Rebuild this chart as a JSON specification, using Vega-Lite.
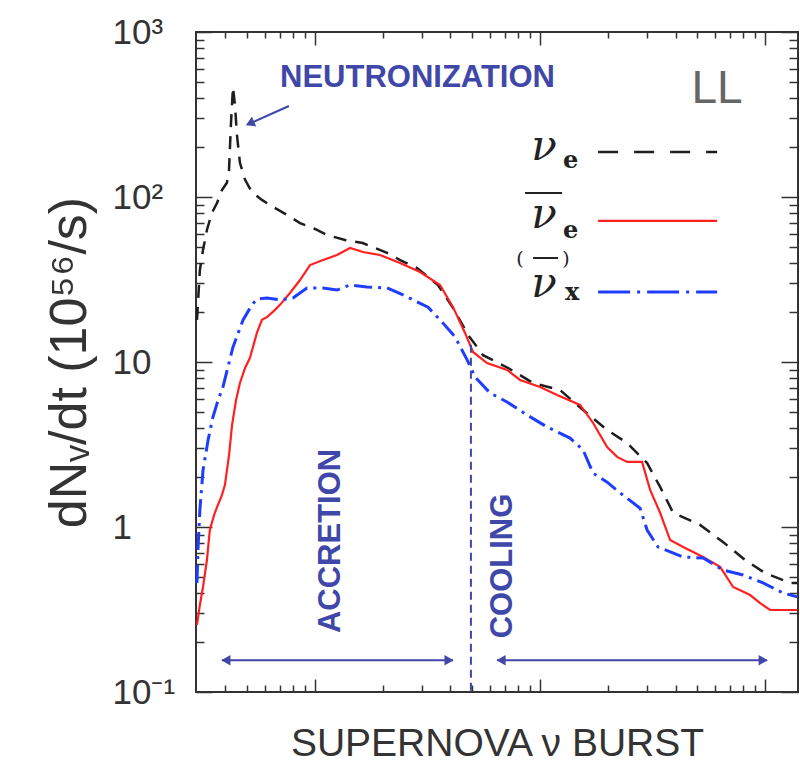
{
  "$schema": "https://vega.github.io/schema/vega-lite/v6.json",
  "width": 602,
  "height": 660,
  "autosize": {"type": "none"},
  "padding": {"left": 196, "top": 32, "right": 2, "bottom": 72},
  "background": "white",
  "config": {
    "view": {"stroke": "#333", "strokeWidth": 2},
    "font": "Liberation Sans",
    "axis": {"domain": false, "grid": false, "tickColor": "#333", "tickWidth": 1.5}
  },
  "datasets": {
    "nue": [
      {"t": 0.0299, "v": 18.0}, {"t": 0.0308, "v": 36.1}, {"t": 0.0318, "v": 47.7}, {"t": 0.0331, "v": 63.1},
      {"t": 0.0348, "v": 80}, {"t": 0.0367, "v": 92}, {"t": 0.0386, "v": 110}, {"t": 0.0406, "v": 122},
      {"t": 0.0415, "v": 146}, {"t": 0.0423, "v": 273}, {"t": 0.0432, "v": 464}, {"t": 0.0441, "v": 361},
      {"t": 0.0450, "v": 238}, {"t": 0.0464, "v": 161}, {"t": 0.0489, "v": 127}, {"t": 0.0525, "v": 107},
      {"t": 0.0581, "v": 96}, {"t": 0.0651, "v": 87}, {"t": 0.0751, "v": 78}, {"t": 0.0858, "v": 69.5},
      {"t": 0.1, "v": 64}, {"t": 0.113, "v": 58.9}, {"t": 0.136, "v": 54.9}, {"t": 0.163, "v": 52.6},
      {"t": 0.209, "v": 45.8}, {"t": 0.239, "v": 41.5}, {"t": 0.284, "v": 37.1}, {"t": 0.352, "v": 29.3},
      {"t": 0.411, "v": 21.2}, {"t": 0.479, "v": 14.6}, {"t": 0.558, "v": 11.0}, {"t": 0.721, "v": 9.2},
      {"t": 0.931, "v": 7.46}, {"t": 1.227, "v": 6.76}, {"t": 1.553, "v": 5.12}, {"t": 1.986, "v": 3.87},
      {"t": 2.438, "v": 3.23}, {"t": 2.991, "v": 2.44}, {"t": 3.415, "v": 1.75}, {"t": 3.902, "v": 1.22},
      {"t": 5.14, "v": 1.03}, {"t": 6.5, "v": 0.811}, {"t": 8.15, "v": 0.631}, {"t": 10, "v": 0.526},
      {"t": 12.92, "v": 0.458}, {"t": 13.9, "v": 0.458}
    ],
    "nuebar": [
      {"t": 0.0299, "v": 0.255}, {"t": 0.0308, "v": 0.337}, {"t": 0.0318, "v": 0.433}, {"t": 0.0331, "v": 0.631},
      {"t": 0.0341, "v": 0.959}, {"t": 0.0356, "v": 1.18}, {"t": 0.0367, "v": 1.32}, {"t": 0.0386, "v": 1.56},
      {"t": 0.0398, "v": 1.8}, {"t": 0.0415, "v": 2.73}, {"t": 0.0428, "v": 4.15}, {"t": 0.0446, "v": 5.88},
      {"t": 0.0464, "v": 7.46}, {"t": 0.0489, "v": 9.2}, {"t": 0.0514, "v": 10.6}, {"t": 0.0552, "v": 15.0},
      {"t": 0.0581, "v": 18.0}, {"t": 0.0612, "v": 18.7}, {"t": 0.0664, "v": 20.7}, {"t": 0.0699, "v": 22.2},
      {"t": 0.0774, "v": 26.2}, {"t": 0.0858, "v": 31.4}, {"t": 0.095, "v": 38.7}, {"t": 0.1086, "v": 41.5},
      {"t": 0.1252, "v": 44.5}, {"t": 0.1432, "v": 49.1}, {"t": 0.1634, "v": 46.4}, {"t": 0.1945, "v": 44.5},
      {"t": 0.2387, "v": 39.8}, {"t": 0.2929, "v": 35.1}, {"t": 0.3594, "v": 29.3}, {"t": 0.4105, "v": 21.5},
      {"t": 0.4642, "v": 15.0}, {"t": 0.5036, "v": 11.5}, {"t": 0.5812, "v": 9.86}, {"t": 0.7135, "v": 8.95},
      {"t": 0.8147, "v": 7.78}, {"t": 1.0, "v": 7.05}, {"t": 1.191, "v": 6.31}, {"t": 1.506, "v": 5.49},
      {"t": 1.721, "v": 4.27}, {"t": 1.986, "v": 3.05}, {"t": 2.2, "v": 2.66}, {"t": 2.438, "v": 2.48},
      {"t": 2.84, "v": 2.48}, {"t": 3.083, "v": 1.68}, {"t": 3.415, "v": 1.22}, {"t": 3.784, "v": 0.834},
      {"t": 4.323, "v": 0.756}, {"t": 5.3, "v": 0.658}, {"t": 6.31, "v": 0.573}, {"t": 7.209, "v": 0.433},
      {"t": 8.577, "v": 0.387}, {"t": 9.506, "v": 0.346}, {"t": 10.52, "v": 0.314}, {"t": 13.9, "v": 0.314}
    ],
    "nux": [
      {"t": 0.0299, "v": 0.458}, {"t": 0.0302, "v": 0.726}, {"t": 0.0308, "v": 1.27}, {"t": 0.0318, "v": 2.21},
      {"t": 0.0335, "v": 3.37}, {"t": 0.0352, "v": 4.64}, {"t": 0.0371, "v": 5.88}, {"t": 0.039, "v": 7.05},
      {"t": 0.0432, "v": 12.3}, {"t": 0.0479, "v": 18.0}, {"t": 0.0525, "v": 22.2}, {"t": 0.0552, "v": 24.1},
      {"t": 0.0612, "v": 24.4}, {"t": 0.0699, "v": 23.8}, {"t": 0.0798, "v": 24.4}, {"t": 0.0921, "v": 28.1},
      {"t": 0.1086, "v": 28.1}, {"t": 0.1252, "v": 27.3}, {"t": 0.1432, "v": 29.3}, {"t": 0.1702, "v": 28.5},
      {"t": 0.2089, "v": 28.1}, {"t": 0.246, "v": 25.5}, {"t": 0.3179, "v": 21.5}, {"t": 0.3706, "v": 17.2},
      {"t": 0.419, "v": 14.2}, {"t": 0.4742, "v": 10.3}, {"t": 0.514, "v": 8.11}, {"t": 0.5995, "v": 6.49},
      {"t": 0.7135, "v": 5.72}, {"t": 0.8758, "v": 4.77}, {"t": 1.074, "v": 4.04}, {"t": 1.359, "v": 3.46},
      {"t": 1.553, "v": 2.93}, {"t": 1.721, "v": 2.12}, {"t": 1.986, "v": 1.87}, {"t": 2.268, "v": 1.61},
      {"t": 2.782, "v": 1.3}, {"t": 2.991, "v": 0.959}, {"t": 3.345, "v": 0.756}, {"t": 4.323, "v": 0.658},
      {"t": 5.3, "v": 0.649}, {"t": 6.501, "v": 0.549}, {"t": 7.985, "v": 0.512}, {"t": 9.795, "v": 0.458},
      {"t": 12.02, "v": 0.398}, {"t": 13.9, "v": 0.377}
    ],
    "legNue": [{"t": 1.811, "t2": 6.12, "v": 187.5}],
    "legNuebar": [{"t": 1.811, "t2": 6.12, "v": 71.6}],
    "legNux": [{"t": 1.811, "t2": 6.12, "v": 26.6}],
    "legNu": [
      {"t": 1.042, "v": 167.6, "text": "ν"},
      {"t": 1.042, "v": 64.9, "text": "ν"},
      {"t": 1.042, "v": 24.8, "text": "ν"}
    ],
    "legSub": [
      {"t": 1.265, "v": 150, "text": "e"},
      {"t": 1.265, "v": 56.4, "text": "e"},
      {"t": 1.291, "v": 23.8, "text": "x"}
    ],
    "legParen": [
      {"t": 0.815, "v": 38.7, "text": "("},
      {"t": 1.305, "v": 38.7, "text": ")"}
    ],
    "legBar": [
      {"t": 0.858, "t2": 1.253, "v": 105.7},
      {"t": 0.931, "t2": 1.202, "v": 42.7}
    ],
    "neutron": [{"t": 0.0699, "v": 464, "text": "NEUTRONIZATION"}],
    "phases": [
      {"t": 0.1178, "v": 0.823, "text": "ACCRETION"},
      {"t": 0.685, "v": 0.58, "text": "COOLING"}
    ],
    "model": [{"t": 6.12, "v": 371.5, "text": "LL"}],
    "arrowLines": [
      {"t": 0.0766, "v": 356, "t2": 0.052, "v2": 281},
      {"t": 0.0386, "v": 0.156, "t2": 0.4105, "v2": 0.156},
      {"t": 0.644, "v": 0.156, "t2": 10.2, "v2": 0.156}
    ],
    "headNeutron": [{"t": 0.0514, "v": 279}],
    "headLeft": [{"t": 0.0402, "v": 0.156}, {"t": 0.671, "v": 0.156}],
    "headRight": [{"t": 0.394, "v": 0.156}, {"t": 9.8, "v": 0.156}],
    "divider": [{"t": 0.493, "v": 12.7, "v2": 0.1}]
  },
  "encoding": {
    "x": {"field": "t", "type": "quantitative", "scale": {"type": "log", "domain": [0.0296, 14], "nice": false}, "axis": null},
    "y": {"field": "v", "type": "quantitative", "scale": {"type": "log", "domain": [0.1, 1000], "nice": false}, "axis": null}
  },
  "resolve": {"axis": {"x": "independent", "y": "independent"}},
  "layer": [
    {
      "data": {"name": "nue"},
      "mark": {"type": "line", "color": "#1e1e1e", "strokeWidth": 2.5, "strokeDash": [13, 9]},
      "encoding": {
        "x": {"field": "t", "type": "quantitative", "scale": {"type": "log", "domain": [0.0296, 14], "nice": false},
          "axis": {"orient": "bottom", "values": [0.1, 1, 10], "labels": false, "tickSize": -13,
            "title": "SUPERNOVA ν BURST", "titleFont": "Liberation Sans", "titleFontSize": 39, "titleFontWeight": "normal",
            "titleColor": "#333", "titleBaseline": "alphabetic", "titlePadding": 63}},
        "y": {"field": "v", "type": "quantitative", "scale": {"type": "log", "domain": [0.1, 1000], "nice": false},
          "axis": {"orient": "left", "values": [0.1, 1, 10, 100, 1000], "tickSize": -16, "labelPadding": 100,
            "labelAlign": "left", "labelBaseline": "middle", "labelOverlap": false, "labelFont": "Liberation Sans",
            "labelFontSize": 35, "labelColor": "#333",
            "labelExpr": "datum.value >= 999 ? '10³' : datum.value >= 99 ? '10²' : datum.value >= 9 ? '10' : datum.value >= 0.9 ? '\u2007\u20091' : '10⁻¹'",
            "title": "dNᵥ/dt (10⁵⁶/s)", "titleFont": "Liberation Sans", "titleFontSize": 52, "titleFontWeight": "normal",
            "titleColor": "#333", "titlePadding": 16}}
      }
    },
    {
      "data": {"name": "nuebar"},
      "mark": {"type": "line", "color": "#ff2020", "strokeWidth": 2.2},
      "encoding": {
        "x": {"field": "t", "type": "quantitative", "scale": {"type": "log", "domain": [0.0296, 14], "nice": false},
          "axis": {"orient": "bottom", "values": [0.04, 0.05, 0.06, 0.07, 0.08, 0.09, 0.2, 0.3, 0.4, 0.5, 0.6, 0.7, 0.8, 0.9, 2, 3, 4, 5, 6, 7, 8, 9],
            "labels": false, "tickSize": -7, "title": null}},
        "y": {"field": "v", "type": "quantitative", "scale": {"type": "log", "domain": [0.1, 1000], "nice": false},
          "axis": {"orient": "left", "values": [0.2, 0.3, 0.4, 0.5, 0.6, 0.7, 0.8, 0.9, 2, 3, 4, 5, 6, 7, 8, 9, 20, 30, 40, 50, 60, 70, 80, 90, 200, 300, 400, 500, 600, 700, 800, 900],
            "labels": false, "tickSize": -8, "title": null}}
      }
    },
    {
      "data": {"name": "nux"},
      "mark": {"type": "line", "color": "#1f3dff", "strokeWidth": 3, "strokeDash": [18, 6, 3, 6]},
      "encoding": {
        "x": {"field": "t", "type": "quantitative", "scale": {"type": "log", "domain": [0.0296, 14], "nice": false},
          "axis": {"orient": "top", "values": [0.1, 1, 10], "labels": false, "tickSize": -13, "title": null}},
        "y": {"field": "v", "type": "quantitative", "scale": {"type": "log", "domain": [0.1, 1000], "nice": false},
          "axis": {"orient": "right", "values": [0.1, 1, 10, 100, 1000], "labels": false, "tickSize": -17, "title": null}}
      }
    },
    {
      "data": {"name": "legNue"},
      "mark": {"type": "rule", "color": "#1e1e1e", "strokeWidth": 2.5, "strokeDash": [20, 16]},
      "encoding": {
        "x": {"field": "t", "type": "quantitative", "scale": {"type": "log", "domain": [0.0296, 14], "nice": false},
          "axis": {"orient": "top", "values": [0.04, 0.05, 0.06, 0.07, 0.08, 0.09, 0.2, 0.3, 0.4, 0.5, 0.6, 0.7, 0.8, 0.9, 2, 3, 4, 5, 6, 7, 8, 9],
            "labels": false, "tickSize": -6, "title": null}},
        "x2": {"field": "t2"},
        "y": {"field": "v", "type": "quantitative", "scale": {"type": "log", "domain": [0.1, 1000], "nice": false},
          "axis": {"orient": "right", "values": [0.2, 0.3, 0.4, 0.5, 0.6, 0.7, 0.8, 0.9, 2, 3, 4, 5, 6, 7, 8, 9, 20, 30, 40, 50, 60, 70, 80, 90, 200, 300, 400, 500, 600, 700, 800, 900],
            "labels": false, "tickSize": -9, "title": null}}
      }
    },
    {
      "data": {"name": "legNuebar"},
      "mark": {"type": "rule", "color": "#ff2020", "strokeWidth": 2.2},
      "encoding": {"x2": {"field": "t2"}}
    },
    {
      "data": {"name": "legNux"},
      "mark": {"type": "rule", "color": "#1f3dff", "strokeWidth": 3, "strokeDash": [32, 7, 3, 7]},
      "encoding": {"x2": {"field": "t2"}}
    },
    {
      "data": {"name": "legNu"},
      "mark": {"type": "text", "font": "DejaVu Serif", "fontStyle": "italic", "fontSize": 42, "color": "#222", "align": "center", "baseline": "alphabetic"},
      "encoding": {"text": {"field": "text"}}
    },
    {
      "data": {"name": "legSub"},
      "mark": {"type": "text", "font": "DejaVu Serif", "fontWeight": "bold", "fontSize": 24, "color": "#222", "align": "left", "baseline": "alphabetic"},
      "encoding": {"text": {"field": "text"}}
    },
    {
      "data": {"name": "legParen"},
      "mark": {"type": "text", "font": "DejaVu Serif", "fontSize": 19, "color": "#222", "align": "center", "baseline": "alphabetic"},
      "encoding": {"text": {"field": "text"}}
    },
    {
      "data": {"name": "legBar"},
      "mark": {"type": "rule", "color": "#222", "strokeWidth": 2},
      "encoding": {"x2": {"field": "t2"}}
    },
    {
      "data": {"name": "neutron"},
      "mark": {"type": "text", "font": "Liberation Sans", "fontWeight": "bold", "fontSize": 31, "color": "#3f47a8", "align": "left", "baseline": "alphabetic"},
      "encoding": {"text": {"field": "text"}}
    },
    {
      "data": {"name": "phases"},
      "mark": {"type": "text", "font": "Liberation Sans", "fontWeight": "bold", "fontSize": 31, "color": "#3f47a8", "align": "center", "baseline": "middle", "angle": 270},
      "encoding": {"text": {"field": "text"}}
    },
    {
      "data": {"name": "model"},
      "mark": {"type": "text", "font": "Liberation Sans", "fontSize": 46, "color": "#666", "align": "center", "baseline": "alphabetic"},
      "encoding": {"text": {"field": "text"}}
    },
    {
      "data": {"name": "arrowLines"},
      "mark": {"type": "rule", "color": "#3f47a8", "strokeWidth": 2},
      "encoding": {"x2": {"field": "t2"}, "y2": {"field": "v2"}}
    },
    {
      "data": {"name": "headNeutron"},
      "mark": {"type": "point", "shape": "triangle-up", "angle": 245.7, "filled": true, "size": 110, "color": "#3f47a8", "opacity": 1}
    },
    {
      "data": {"name": "headLeft"},
      "mark": {"type": "point", "shape": "triangle-left", "filled": true, "size": 110, "color": "#3f47a8", "opacity": 1}
    },
    {
      "data": {"name": "headRight"},
      "mark": {"type": "point", "shape": "triangle-right", "filled": true, "size": 110, "color": "#3f47a8", "opacity": 1}
    },
    {
      "data": {"name": "divider"},
      "mark": {"type": "rule", "color": "#3f47a8", "strokeWidth": 2, "strokeDash": [8, 5]},
      "encoding": {"y2": {"field": "v2"}}
    }
  ]
}
